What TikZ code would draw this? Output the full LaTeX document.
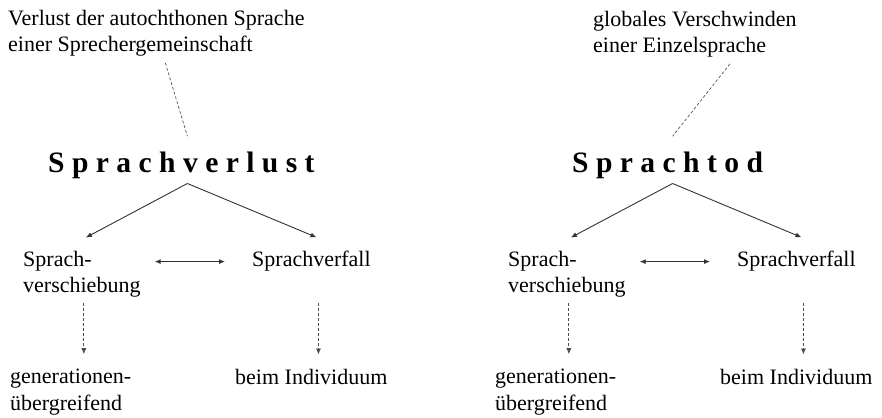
\documentclass[tikz,border=0pt]{standalone}
\usepackage{fontspec}
\setmainfont{Liberation Serif}
\usetikzlibrary{arrows.meta,calc}
\tikzstyle{oben} = [anchor=base west, align=left, inner sep=0pt, font=\fontsize{22}{26}\selectfont]
\tikzstyle{kopf} = [anchor=base west, inner sep=0pt, font=\fontsize{29.6}{30}\selectfont\bfseries]
\tikzstyle{begriff} = [anchor=base west, align=left, inner sep=0pt, font=\fontsize{22}{26}\selectfont]
\tikzstyle{arrow} = [draw, line width=0.9pt, color=black!80, -{Latex[length=6pt,width=5pt]}]
\tikzstyle{doublearrow} = [draw, line width=0.9pt, color=black!80, {Latex[length=6pt,width=5pt]}-{Latex[length=6pt,width=5pt]}]
\tikzstyle{dasharrow} = [draw, line width=0.8pt, color=black!70, dash pattern=on 3pt off 2pt, -{Latex[length=6pt,width=5pt]}]
\tikzstyle{dashline} = [draw, line width=0.7pt, color=black!65, dash pattern=on 3pt off 2pt]
\newcommand{\oben}[2]{node (o#1) [oben] {#2}}
\newcommand{\kopf}[2]{node (k#1) [kopf] {#2}}
\newcommand{\begriff}[2]{node (b#1) [begriff] {#2}}
\begin{document}
\begin{tikzpicture}[x=1pt,y=1pt]
\useasboundingbox (0,0) rectangle (882,417);

% Sprachverlust
\path (8,365) \oben{1}{Verlust der autochthonen Sprache\\einer Sprechergemeinschaft};
\path (48,244) \kopf{1}{S p r a c h v e r l u s t};
\path (23,124) \begriff{1}{Sprach-\\verschiebung};
\path (252,150) \begriff{2}{Sprachverfall};
\path (10,7) \begriff{3}{generationen-\\übergreifend};
\path (235,32) \begriff{4}{beim Individuum};
\path [dashline] ($(o1.south)+(9,-6)$) -- ($(k1.north)+(6,16)$);
\coordinate (s1) at ($(k1.south)+(6,-4)$);
\path [arrow] (s1) -- ($(b1.north)+(4,14)$);
\path [arrow] (s1) -- ($(b2.north)+(5,14)$);
\path [doublearrow] ($(b2.west -| b1.east)+(14,0)$) -- ($(b2.west)+(-27,0)$);
\path [dasharrow] ($(b1.south)+(2,-5)$) -- ($(b1.south |- b3.north)+(2,15)$);
\path [dasharrow] ($(b2.south |- b1.south)+(7,-5)$) -- ($(b2.south |- b4.north)+(7,15)$);

% Sprachtod
\path (593,364) \oben{2}{globales Verschwinden\\einer Einzelsprache};
\path (572,244) \kopf{2}{S p r a c h t o d};
\path (508,124) \begriff{5}{Sprach-\\verschiebung};
\path (737,150) \begriff{6}{Sprachverfall};
\path (495,7) \begriff{7}{generationen-\\übergreifend};
\path (720,32) \begriff{8}{beim Individuum};
\path [dashline] ($(o2.south)+(35,-6)$) -- ($(k2.north)+(5,16)$);
\coordinate (s2) at ($(k2.south)+(5,-4)$);
\path [arrow] (s2) -- ($(b5.north)+(4,14)$);
\path [arrow] (s2) -- ($(b6.north)+(5,14)$);
\path [doublearrow] ($(b6.west -| b5.east)+(14,0)$) -- ($(b6.west)+(-27,0)$);
\path [dasharrow] ($(b5.south)+(2,-5)$) -- ($(b5.south |- b7.north)+(2,15)$);
\path [dasharrow] ($(b6.south |- b5.south)+(7,-5)$) -- ($(b6.south |- b8.north)+(7,15)$);
\end{tikzpicture}
\end{document}
